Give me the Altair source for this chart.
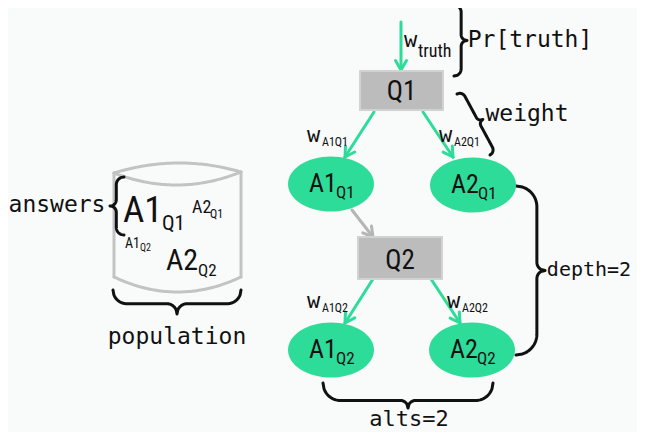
import math
import altair as alt
import pandas as pd

# ---------------- data (reference pixel coordinates) ----------------
GREEN = "#2edc9a"
BG = "#f9fafa"

# answer nodes (ellipses)
ell_label = ["A1", "A2", "A1", "A2"]
ell_sub = ["Q1", "Q1", "Q2", "Q2"]
ell_cx = [331, 473, 331, 472]
ell_cy = [184, 185, 350, 350]

# question nodes (rectangles)
rect_label = ["Q1", "Q2"]
rect_x1 = [360, 358]
rect_x2 = [443, 442]
rect_y1 = [71, 237]
rect_y2 = [110, 279]

# arrows  (x1, y1, x2, y2)
green_arrows = [(401, 22, 401, 70), (374, 112, 345, 157), (423, 112, 453, 157),
                (373, 279, 345, 323), (431, 279, 460, 323)]
gray_arrows = [(352, 210, 373, 237)]

# braces (x1, y1, x2, y2, tipx, tipy, flat)
braces = [(454, 5, 454, 76, 467, 40, 0.55),
          (457, 94, 490, 155, 481, 116, 0.55),
          (516, 186, 516, 355, 545, 270, 0.72),
          (323, 383, 493, 383, 410, 408, 0.7),
          (124, 177, 124, 235, 110, 205, 0.55),
          (113, 290, 241, 290, 177, 314, 0.57)]

# cylinder (population) outline: quadratic curves (p0, control, p2) and lines
cyl_curves = [((114, 173), (177.5, 153.5), (241, 172)),
              ((114, 173), (177.5, 197.5), (241, 172)),
              ((114, 277), (177.5, 307), (241, 277))]
cyl_lines = [((114, 173), (114, 277)), ((241, 172), (241, 277))]

# monospace labels (center)
mono_text = ["Pr[truth]", "weight", "depth=2", "alts=2", "answers", "population"]
mono_x = [530, 527, 589, 409, 57, 177]
mono_y = [40, 114, 270, 419, 205, 337]
mono_size = [23, 23, 20, 22, 23, 23]

# "w" weight symbols with subscripts
w_x = [404, 307, 439, 307, 447]
w_y = [47, 142, 142, 308, 308]
w_size = [22, 22, 22, 22, 22]
w_sub = ["truth", "A1Q1", "A2Q1", "A1Q2", "A2Q2"]
w_sub_x = [418, 322, 454, 322, 462]
w_sub_y = [57, 146, 146, 312, 312]
w_sub_size = [18, 12, 12, 12, 12]

# labels inside the population cylinder
pop_text = ["A1", "A2", "A1", "A2"]
pop_x = [123, 192, 125, 166]
pop_y = [222, 213, 248, 270]
pop_size = [37, 18, 14, 30]
pop_sub = ["Q1", "Q1", "Q2", "Q2"]
pop_sub_x = [162, 210, 140, 198]
pop_sub_y = [230, 218, 251, 276]
pop_sub_size = [21, 12, 10, 17]

NARROW = "Liberation Sans Narrow, Roboto Condensed, Roboto, sans-serif"
MONO = "DejaVu Sans Mono"

# ---------------- geometry helpers ----------------
def brace_path(x1, y1, x2, y2, tx, ty, flat, n=160):
    dx, dy = x2 - x1, y2 - y1
    L = math.hypot(dx, dy)
    ux, uy = dx / L, dy / L
    nx, ny = -uy, ux
    mx, my = (x1 + x2) / 2, (y1 + y2) / 2
    depth = (tx - mx) * nx + (ty - my) * ny
    d = abs(depth)
    r1 = max(flat * d, 1e-6)
    r2 = max((1 - flat) * d, 1e-6)
    pts = []
    for i in range(n + 1):
        s = L * i / n
        e = min(s, L - s)
        c = abs(s - L / 2)
        g1 = math.sqrt(max(0.0, 1 - (1 - min(e / r1, 1)) ** 2))
        g2 = 1 - math.sqrt(max(0.0, 1 - (1 - min(c / r2, 1)) ** 2))
        off = depth * (flat * g1 + (1 - flat) * g2)
        pts.append((x1 + ux * s + nx * off, y1 + uy * s + ny * off))
    return pts


def quad(p0, c, p2, n=60):
    out = []
    for i in range(n + 1):
        t = i / n
        a, b, cc = (1 - t) ** 2, 2 * (1 - t) * t, t ** 2
        out.append((a * p0[0] + b * c[0] + cc * p2[0], a * p0[1] + b * c[1] + cc * p2[1]))
    return out


def arrow_segments(arrs, head=11, ang=30):
    segs = []
    for (x1, y1, x2, y2) in arrs:
        segs.append((x1, y1, x2, y2))
        th = math.atan2(y1 - y2, x1 - x2)
        for sgn in (-1, 1):
            a = th + sgn * math.radians(ang)
            segs.append((x2, y2, x2 + head * math.cos(a), y2 + head * math.sin(a)))
    return segs

# ---------------- tables ----------------
brace_rows = []
for k, b in enumerate(braces):
    for j, (px, py) in enumerate(brace_path(*b)):
        brace_rows.append({"id": k, "o": j, "x": px, "y": py})
brace_df = pd.DataFrame(brace_rows)

cyl_rows = []
for k, (p0, c, p2) in enumerate(cyl_curves):
    for j, (px, py) in enumerate(quad(p0, c, p2)):
        cyl_rows.append({"id": k, "o": j, "x": px, "y": py})
for k, (p0, p1) in enumerate(cyl_lines):
    cyl_rows.append({"id": 10 + k, "o": 0, "x": p0[0], "y": p0[1]})
    cyl_rows.append({"id": 10 + k, "o": 1, "x": p1[0], "y": p1[1]})
cyl_df = pd.DataFrame(cyl_rows)

green_df = pd.DataFrame(arrow_segments(green_arrows), columns=["x", "y", "x2", "y2"])
gray_df = pd.DataFrame(arrow_segments(gray_arrows), columns=["x", "y", "x2", "y2"])

rect_df = pd.DataFrame({"label": rect_label, "x": rect_x1, "x2": rect_x2,
                        "y": rect_y1, "y2": rect_y2,
                        "cx": [(a + b) / 2 for a, b in zip(rect_x1, rect_x2)],
                        "by": [y2 - 10 for y2 in rect_y2]})

ell_df = pd.DataFrame({"x": ell_cx, "y": ell_cy})
ell_main = pd.DataFrame({"t": ell_label, "x": [c - 22 for c in ell_cx],
                         "y": [c + 8 for c in ell_cy], "s": 26})
ell_subs = pd.DataFrame({"t": ell_sub, "x": [c + 5 for c in ell_cx],
                         "y": [c + 14 for c in ell_cy], "s": 17})

mono_df = pd.DataFrame({"t": mono_text, "x": mono_x, "y": mono_y, "s": mono_size})
w_df = pd.DataFrame({"t": ["w"] * len(w_x), "x": w_x, "y": w_y, "s": w_size})
narrow_df = pd.concat([
    ell_main, ell_subs,
    pd.DataFrame({"t": w_sub, "x": w_sub_x, "y": w_sub_y, "s": w_sub_size}),
    pd.DataFrame({"t": pop_text, "x": pop_x, "y": pop_y, "s": pop_size}),
    pd.DataFrame({"t": pop_sub, "x": pop_sub_x, "y": pop_sub_y, "s": pop_sub_size}),
], ignore_index=True)

# ---------------- chart ----------------
W, H = 645 - 16, 440 - 16
XS = alt.Scale(domain=[8, 8 + W], nice=False, zero=False)
YS = alt.Scale(domain=[8, 8 + H], nice=False, zero=False, reverse=True)


def X(f="x"):
    return alt.X(f"{f}:Q", scale=XS, axis=None)


def Y(f="y"):
    return alt.Y(f"{f}:Q", scale=YS, axis=None)

ELL_PATH = ("M -1 0 C -1 -0.3535 -0.5523 -0.64 0 -0.64 C 0.5523 -0.64 1 -0.3535 1 0 "
            "C 1 0.3535 0.5523 0.64 0 0.64 C -0.5523 0.64 -1 0.3535 -1 0 Z")

cyl = alt.Chart(cyl_df).mark_line(color="#c3c3c3", strokeWidth=3, strokeCap="round").encode(
    x=X(), y=Y(), detail="id:N", order="o:Q")
brc = alt.Chart(brace_df).mark_line(color="#111111", strokeWidth=3, strokeCap="round",
                                    strokeJoin="round").encode(
    x=X(), y=Y(), detail="id:N", order="o:Q")
garr = alt.Chart(green_df).mark_rule(color=GREEN, strokeWidth=3, strokeCap="round").encode(
    x=X(), y=Y(), x2="x2:Q", y2="y2:Q")
gyarr = alt.Chart(gray_df).mark_rule(color="#b5b5b5", strokeWidth=3, strokeCap="round").encode(
    x=X(), y=Y(), x2="x2:Q", y2="y2:Q")
rects = alt.Chart(rect_df).mark_rect(fill="#bcbcbc", stroke="#d2d2d2", strokeWidth=2).encode(
    x=X(), x2="x2:Q", y=Y(), y2="y2:Q")
rect_txt = alt.Chart(rect_df).mark_text(font=NARROW, fontSize=27, align="center",
                                        baseline="alphabetic", color="#111111").encode(
    x=X("cx"), y=Y("by"), text="label:N")
ells = alt.Chart(ell_df).mark_point(shape=ELL_PATH, filled=True, fill=GREEN, opacity=1,
                                    strokeWidth=0, size=86 * 86).encode(x=X(), y=Y())
narrow = alt.Chart(narrow_df).mark_text(font=NARROW, align="left", baseline="alphabetic",
                                        color="#111111").encode(
    x=X(), y=Y(), text="t:N", size=alt.Size("s:Q", scale=None, legend=None))
wtxt = alt.Chart(w_df).mark_text(font=MONO, align="left", baseline="alphabetic",
                                 color="#111111").encode(
    x=X(), y=Y(), text="t:N", size=alt.Size("s:Q", scale=None, legend=None))
mono = alt.Chart(mono_df).mark_text(font=MONO, align="center", baseline="middle",
                                    color="#111111").encode(
    x=X(), y=Y(), text="t:N", size=alt.Size("s:Q", scale=None, legend=None))

chart = alt.layer(cyl, brc, garr, gyarr, rects, rect_txt, ells, narrow, wtxt, mono).properties(
    width=W, height=H, padding=0, autosize=alt.AutoSizeParams(type="none"),
    background=BG
).configure_view(stroke=None)

chart.save("out.html", embed_options={"renderer": "svg", "actions": False})
